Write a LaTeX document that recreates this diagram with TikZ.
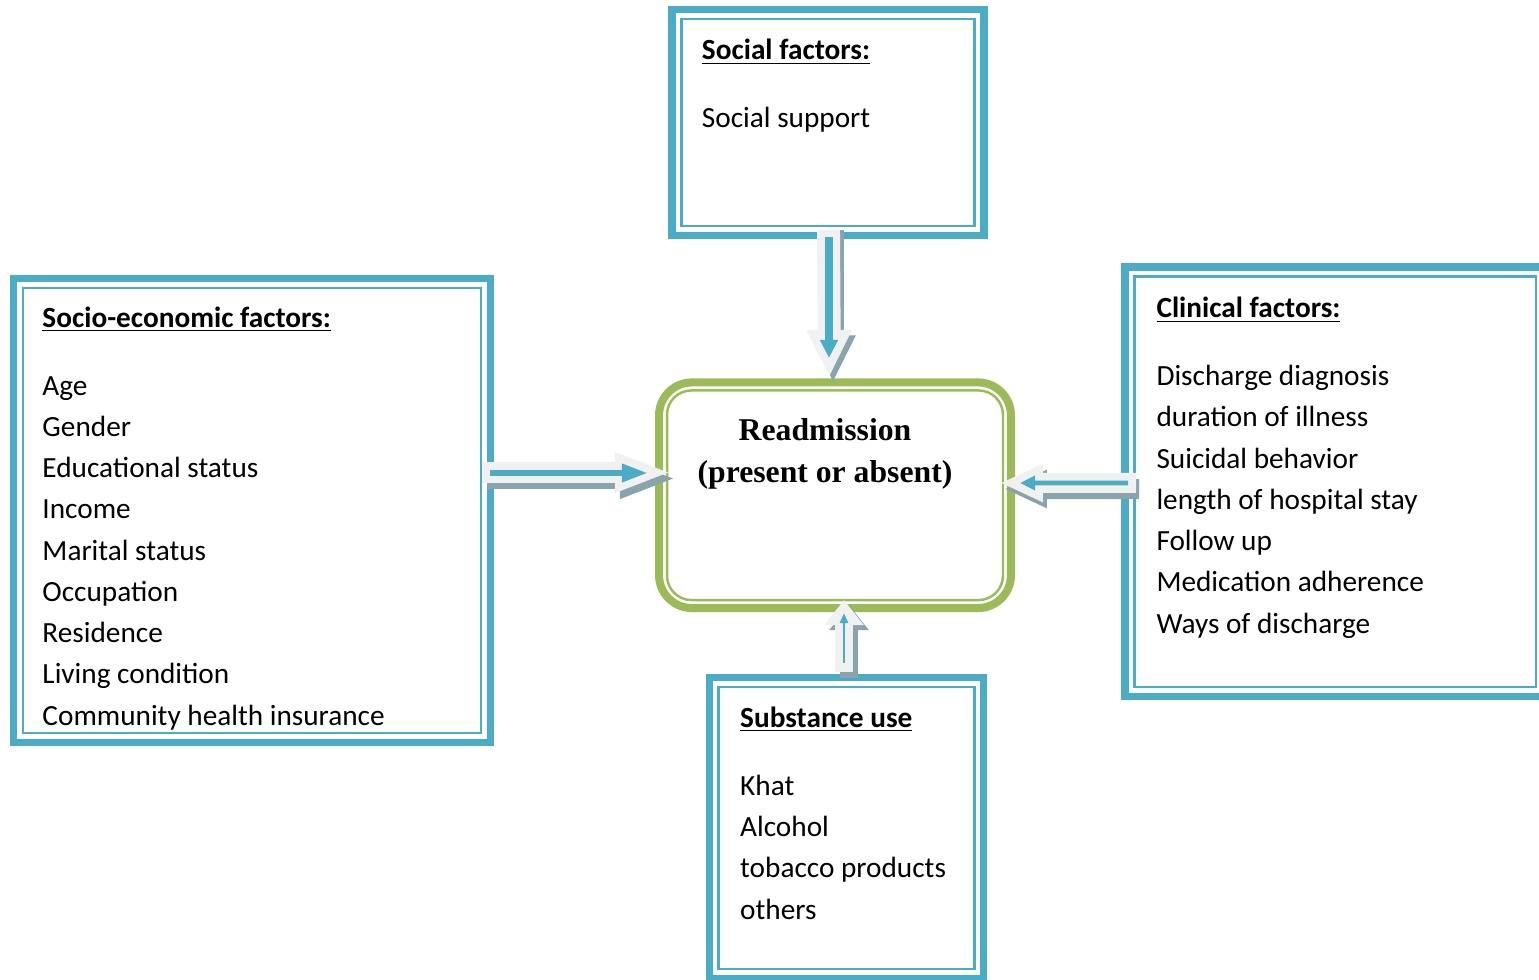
\documentclass[tikz,border=0pt]{standalone}
\usepackage{fontspec}
\setmainfont{Carlito}
\newfontfamily\headfont{Liberation Serif}
\usetikzlibrary{arrows.meta,positioning}
\definecolor{boxblue}{HTML}{4BACC6}
\definecolor{readgreen}{HTML}{9BBB59}
\definecolor{arrowwhite}{HTML}{F1F1F1}
\definecolor{shadowgray}{HTML}{89A4AC}

\tikzset{
  factorbox/.style={draw=boxblue, line width=1pt, inner sep=0pt, outer sep=0pt},
  outerframe/.style={draw=boxblue, line width=2.9pt},
  readbox/.style={draw=readgreen, line width=3.3pt, rounded corners=13.5pt, inner sep=0pt, outer sep=0pt},
  readinner/.style={draw=readgreen, line width=1pt, rounded corners=10pt},
  itemtext/.style={font=\fontsize{12}{16.9}\selectfont, align=left, inner sep=0pt, anchor=base west},
  fatarrow/.style n args={3}{draw=arrowwhite, line width=#1, -{Triangle[length=#2,width=#3]}},
  fatshadow/.style n args={3}{draw=shadowgray, line width=#1, -{Triangle[length=#2,width=#3]}},
  thinarrow/.style n args={3}{draw=boxblue, line width=#1, -{Triangle[length=#2,width=#3]}}
}

\begin{document}
\begin{tikzpicture}[x=0.41pt,y=0.41pt]
  \useasboundingbox (0,0) rectangle (1539,-980);

  % factor boxes
  \node[factorbox, minimum width=120.13pt, minimum height=84.87pt] (social) at (828,-122.5) {};
  \node[factorbox, minimum width=187.78pt, minimum height=182.45pt] (socio) at (252,-510.5) {};
  \node[factorbox, minimum width=164.6pt, minimum height=168.3pt] (clinical) at (1335.25,-481.75) {};
  \node[factorbox, minimum width=104.8pt, minimum height=115.7pt] (substance) at (846.5,-828.15) {};
  \foreach \b in {social,socio,clinical,substance}
    \draw[outerframe] ([shift={(-9.5,9.5)}]\b.north west) rectangle ([shift={(9.5,-9.5)}]\b.south east);

  % texts of the boxes (placed at the baseline of their last line)
  \node[itemtext] (socialtxt) at ([shift={(20,-108.5)}]social.north west) {%
    \underline{\textbf{Social factors:}}\\[11pt]
    Social support};
  \node[itemtext] (sociotxt) at ([shift={(19,-437)}]socio.north west) {%
    \underline{\textbf{Socio-economic factors:}}\\[11pt]
    Age\\
    Gender\\
    Educational status\\
    Income\\
    Marital status\\
    Occupation\\
    Residence\\
    Living condition\\
    Community health insurance};
  \node[itemtext] (clinicaltxt) at ([shift={(21.5,-356.5)}]clinical.north west) {%
    \underline{\textbf{Clinical factors:}}\\[11pt]
    Discharge diagnosis\\
    duration of illness\\
    Suicidal behavior\\
    length of hospital stay\\
    Follow up\\
    Medication adherence\\
    Ways of discharge};
  \node[itemtext] (substancetxt) at ([shift={(21,-232)}]substance.north west) {%
    \underline{\textbf{Substance use}}\\[11pt]
    Khat\\
    Alcohol\\
    tobacco products\\
    others};

  % outcome
  \node[readbox, minimum width=144.3pt, minimum height=92.5pt] (readm) at (835,-495.25) {};
  \draw[readinner] ([shift={(8,-8)}]readm.north west) rectangle ([shift={(-8,8)}]readm.south east);
  \node[font=\headfont\bfseries\fontsize{13}{17.6}\selectfont, align=center, inner sep=0pt, anchor=base] (readmtxt) at (825,-483) {Readmission\\(present or absent)};

  % arrows into the outcome
  \draw[fatshadow={8.6pt}{23.4pt}{14.8pt}] ([shift={(6,32)}]socio.east) -- ([shift={(18,16.75)}]readm.west);
  \draw[fatarrow={8.6pt}{23.4pt}{14.8pt}] ([shift={(1,38)}]socio.east) -- ([shift={(13,22.75)}]readm.west);
  \draw[thinarrow={2.5pt}{10.7pt}{7pt}] ([shift={(9,37.5)}]socio.east) -- ([shift={(-11,22.25)}]readm.west);

  \draw[fatshadow={8.2pt}{17.6pt}{14.4pt}] ([shift={(4.5,-7.25)}]clinical.west) -- ([shift={(-7,6.25)}]readm.east);
  \draw[fatarrow={8.2pt}{17.6pt}{14.4pt}] ([shift={(1.5,-1.25)}]clinical.west) -- ([shift={(-11,12.25)}]readm.east);
  \draw[thinarrow={2pt}{6.2pt}{5.7pt}] ([shift={(-6.5,-1.25)}]clinical.west) -- ([shift={(9,12.25)}]readm.east);

  \draw[fatshadow={9.4pt}{19.3pt}{17.2pt}] ([shift={(5,-4)}]social.south) -- ([shift={(-2,0)}]readm.north);
  \draw[fatarrow={9.4pt}{19.3pt}{17.2pt}] ([shift={(0.5,-4)}]social.south) -- ([shift={(-5.5,5.5)}]readm.north);
  \draw[thinarrow={2.9pt}{7.4pt}{7pt}] ([shift={(1,-11)}]social.south) -- ([shift={(-6,24.5)}]readm.north);

  \draw[fatshadow={7.4pt}{10.3pt}{15.6pt}] ([shift={(2.5,9)}]substance.north) -- ([shift={(14,3)}]readm.south);
  \draw[fatarrow={7.4pt}{10.3pt}{15.6pt}] ([shift={(-2.5,15)}]substance.north) -- ([shift={(9,8)}]readm.south);
  \draw[thinarrow={1.2pt}{4.1pt}{3.3pt}] ([shift={(-2.5,24)}]substance.north) -- ([shift={(9,-5)}]readm.south);
\end{tikzpicture}
\end{document}
